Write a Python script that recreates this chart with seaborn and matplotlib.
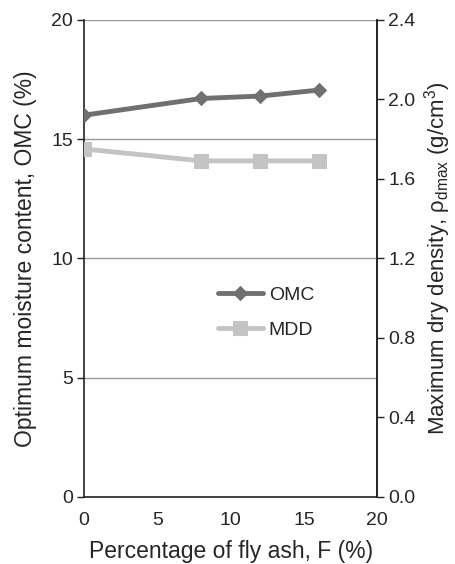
import matplotlib
matplotlib.use("Agg")
import matplotlib.pyplot as plt
import seaborn as sns
import pandas as pd

fly_ash = [0, 8, 12, 16]
omc = [16.0, 16.7, 16.8, 17.05]
mdd = [1.75, 1.69, 1.69, 1.69]

sns.set_style("white")
plt.rcParams['font.family'] = ['Liberation Sans', 'DejaVu Sans']
plt.rcParams['mathtext.fontset'] = 'custom'
plt.rcParams['mathtext.rm'] = 'Liberation Sans'

fig = plt.figure(figsize=(4.55, 5.64), dpi=100)
ax = fig.add_axes([0.185, 0.119, 0.644, 0.846])
ax2 = ax.twinx()

df = pd.DataFrame({"F": fly_ash, "OMC": omc, "MDD": mdd})
c1, c2 = "#707070", "#c4c4c4"
sns.lineplot(data=df, x="F", y="OMC", ax=ax, color=c1, lw=3.5, marker="D", ms=7.5,
             markeredgecolor=c1, label="OMC", legend=False, zorder=5)
sns.lineplot(data=df, x="F", y="MDD", ax=ax2, color=c2, lw=3.5, marker="s", ms=10.5,
             markeredgecolor=c2, label="MDD", legend=False, zorder=4)

ax.set_xlim(0, 20)
ax.set_ylim(0, 20)
ax2.set_ylim(0, 2.4)
ax.set_xticks([0, 5, 10, 15, 20])
ax.set_yticks([0, 5, 10, 15, 20])
ax2.set_yticks([0, 0.4, 0.8, 1.2, 1.6, 2.0, 2.4])
ax2.set_yticklabels(["0.0", "0.4", "0.8", "1.2", "1.6", "2.0", "2.4"])
ax.yaxis.grid(True, color="#999999", lw=1)
ax.set_axisbelow(True)

for a in (ax, ax2):
    a.spines["top"].set_visible(False)
    for s in a.spines.values():
        s.set_color("#222222")
        s.set_linewidth(1.2)
ax2.spines["left"].set_visible(False)
ax2.spines["bottom"].set_visible(False)

ax.tick_params(axis="y", direction="out", length=5, width=1, labelsize=14, color="#222222", pad=3)
ax.tick_params(axis="x", direction="out", length=5, width=1, labelsize=14, color="#222222", pad=6)
ax2.tick_params(axis="y", direction="out", length=5, width=1, labelsize=14, color="#222222", pad=3)

ax.set_xlabel("Percentage of fly ash, F (%)", fontsize=16.5, labelpad=8)
ax.set_ylabel("Optimum moisture content, OMC (%)", fontsize=16.5, labelpad=10)
ax2.set_ylabel(r"Maximum dry density, $\mathregular{\rho_{dmax}}$ (g/cm$^3$)", fontsize=16, labelpad=5)

h1, l1 = ax.get_legend_handles_labels()
h2, l2 = ax2.get_legend_handles_labels()
ax2.legend(h1 + h2, l1 + l2, loc="upper left", bbox_to_anchor=(0.457, 0.442), frameon=False,
           fontsize=14, handlelength=2.3, handletextpad=0.3, labelspacing=0.9,
           borderpad=0, borderaxespad=0)

fig.savefig("out.png", dpi=100)
